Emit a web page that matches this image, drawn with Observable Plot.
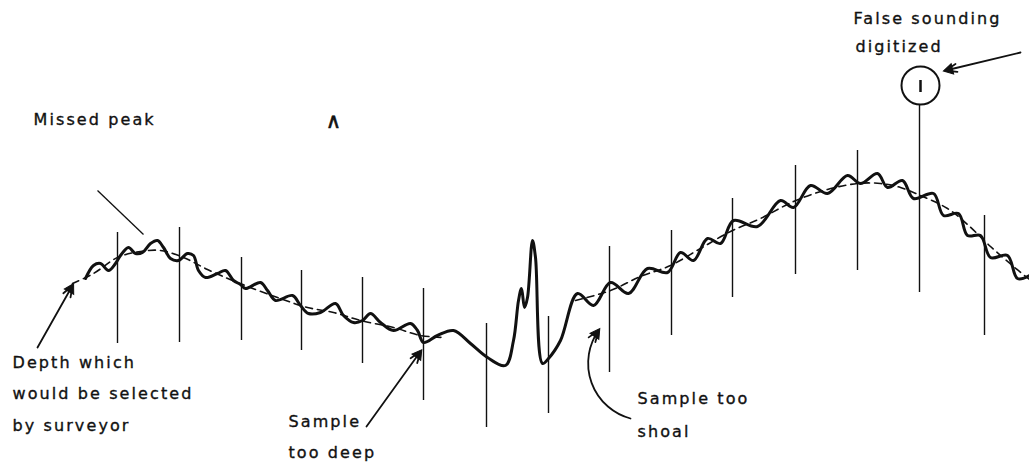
<!DOCTYPE html>
<html><head><meta charset="utf-8">
<script src="https://cdn.jsdelivr.net/npm/d3@7"></script>
<script src="https://cdn.jsdelivr.net/npm/@observablehq/plot@0.6"></script>
<style>
html,body{margin:0;padding:0;background:#fff;overflow:hidden}
#chart svg text{letter-spacing:2.1px}
</style></head><body><div id="chart"></div>
<script>
// Echo-sounder trace (distance along track, depth in figure units; depth grows downward)
const traceX = [85,93,100,108,115,120,128,135,142,150,157,163,170,178,187,193,198,205,217,225,233,240,245,260,267,275,292,300,308,320,335,343,353,362,370,380,393,410,417,423,437,453,470,487,505,513,518,521,524,527,532,535,542,548,560,577,593,610,628,647,667,680,693,707,720,733,757,780,793,810,827,847,860,877,887,902,913,933,943,958,967,980,990,1007,1017,1029];
const traceDepth = [278,265,263,270,263,255,247,253,252,243,240,247,258,260,253,255,270,277,273,270,280,284,288,282,290,300,295,305,313,312,303,315,322,320,313,322,330,323,330,342,335,330,343,357,365,340,300,288,307,297,240,257,363,358,340,293,305,282,293,268,272,252,260,238,243,220,226,200,207,185,193,175,183,173,187,180,198,193,215,213,235,235,257,255,278,275];

// Depth which would be selected by surveyor (dashed), two stretches
const surveyorLeftX = [72,93,117,140,160,183,207,237,277,307,333,360,393,420,445];
const surveyorLeftDepth = [283,273,257,251,250,257,269,282,297,307,312,320,327,335,337];
const surveyorRightX = [575,610,640,670,700,730,760,793,827,857,880,900,920,947,967,990,1013,1029];
const surveyorRightDepth = [300,290,276,265,248,231,218,201,189,183,183,187,195,208,224,246,266,279];

// Digitized samples (vertical strokes)
const sampleX = [117,179,241,301,362,423,486,548,609,671,732,795,857,919,984];
const sampleTop = [232,227,257,270,277,288,323,316,246,230,198,165,150,104,215];
const sampleBottom = [343,342,340,350,363,400,427,413,372,335,297,274,270,292,335];

// False sounding marker
const falseX = [920];
const falseDepth = [85];

// Labels
const labelText = ["Missed peak","Depth which","would be selected","by surveyor","Sample","too deep","Sample too","shoal","False sounding","digitized"];
const labelX = [33,12,12,12,288,288,637,637,853,855];
const labelY = [119,362,393,425,421,452,398,431,18,46];

// Caret mark
const caretText = ["∧"], caretX = [334], caretY = [121];

// Pointers
const arrowX1 = [37,366,1020];
const arrowY1 = [347,426,52];
const arrowX2 = [72,420,945];
const arrowY2 = [285,351,70];
const leaderX1 = [97], leaderY1 = [190], leaderX2 = [143], leaderY2 = [234];
const curvedX1 = [630], curvedY1 = [418], curvedX2 = [598], curvedY2 = [330], curvedBend = [55];

const trace = traceX.map((x, i) => ({x, y: traceDepth[i]}));
const surveyor = [
  ...surveyorLeftX.map((x, i) => ({x, y: surveyorLeftDepth[i], seg: "a"})),
  ...surveyorRightX.map((x, i) => ({x, y: surveyorRightDepth[i], seg: "b"}))
];
const samples = sampleX.map((x, i) => ({x, y1: sampleTop[i], y2: sampleBottom[i]}));
const labels = labelText.map((t, i) => ({t, x: labelX[i], y: labelY[i]}));
const caret = caretText.map((t, i) => ({t, x: caretX[i], y: caretY[i]}));
const arrows = arrowX1.map((x1, i) => ({x1, y1: arrowY1[i], x2: arrowX2[i], y2: arrowY2[i], bend: 0}));
const leaders = leaderX1.map((x1, i) => ({x1, y1: leaderY1[i], x2: leaderX2[i], y2: leaderY2[i]}));
const curved = curvedX1.map((x1, i) => ({x1, y1: curvedY1[i], x2: curvedX2[i], y2: curvedY2[i], bend: curvedBend[i]}));
const falseSounding = falseX.map((x, i) => ({x, y: falseDepth[i]}));

// filled heads: direction of the arrow at its tip (chord turned by the bend)
const heads = [...arrows, ...curved].map(a => {
  const ang = Math.atan2(a.x2 - a.x1, -(a.y2 - a.y1)) * 180 / Math.PI + a.bend;
  const r = ang * Math.PI / 180;
  return {x: a.x2 - 4 * Math.sin(r), y: a.y2 + 4 * Math.cos(r), rotate: ang};
});

const ink = "#111";
const chart = Plot.plot({
  width: 1029, height: 462, margin: 0,
  style: {fontFamily: "DejaVu Sans", background: "#fff"},
  x: {domain: [0, 1029], axis: null},
  y: {domain: [0, 462], reverse: true, axis: null},
  marks: [
    Plot.ruleX(samples, {x: "x", y1: "y1", y2: "y2", stroke: ink, strokeWidth: 1.4}),
    Plot.line(surveyor, {x: "x", y: "y", z: "seg", curve: "catmull-rom", stroke: ink, strokeWidth: 1.6, strokeDasharray: "7,5"}),
    Plot.line(trace, {x: "x", y: "y", curve: "catmull-rom", stroke: ink, strokeWidth: 3, strokeLinejoin: "round", strokeLinecap: "round"}),
    Plot.dot(falseSounding, {x: "x", y: "y", r: 19, stroke: ink, strokeWidth: 2, fill: "#fff"}),
    Plot.ruleX(falseSounding, {x: "x", y1: d => d.y - 5, y2: d => d.y + 7, stroke: ink, strokeWidth: 2.5}),
    Plot.link(leaders, {x1: "x1", y1: "y1", x2: "x2", y2: "y2", stroke: ink, strokeWidth: 1.3}),
    Plot.arrow(arrows, {x1: "x1", y1: "y1", x2: "x2", y2: "y2", stroke: ink, strokeWidth: 1.8, headLength: 10, headAngle: 40}),
    Plot.arrow(curved, {x1: "x1", y1: "y1", x2: "x2", y2: "y2", bend: 55, stroke: ink, strokeWidth: 1.8, headLength: 10, headAngle: 40}),
    Plot.dot(heads, {x: "x", y: "y", rotate: "rotate", symbol: "triangle", r: 4, fill: ink, stroke: ink, strokeWidth: 1}),
    Plot.text(labels, {x: "x", y: "y", text: "t", textAnchor: "start", lineAnchor: "middle", fontSize: 16, fill: ink, stroke: ink, strokeWidth: 0.35}),
    Plot.text(caret, {x: "x", y: "y", text: "t", fontSize: 21, fill: ink, stroke: ink, strokeWidth: 0.6})
  ]
});
document.getElementById("chart").appendChild(chart);
</script></body></html>
